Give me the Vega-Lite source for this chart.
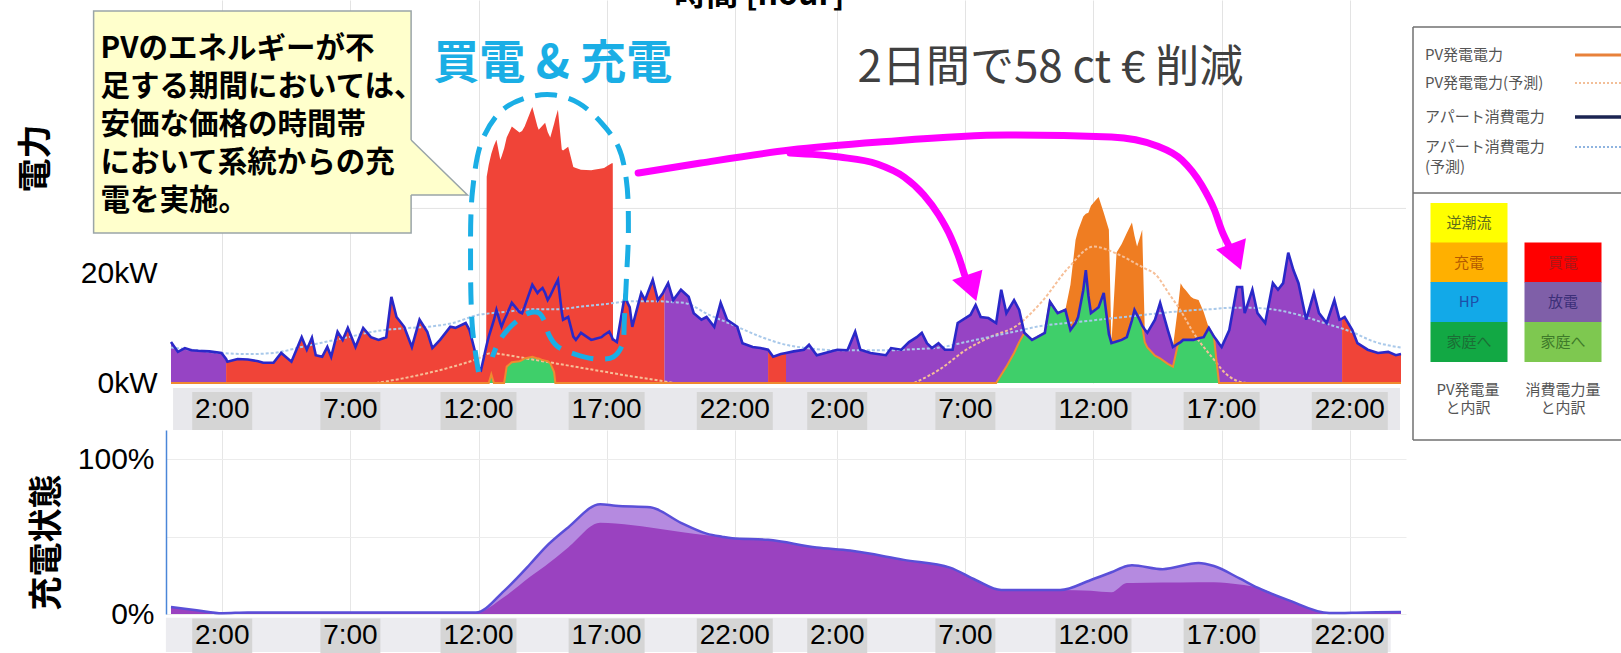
{
  "$schema": "https://vega.github.io/schema/vega-lite/v6.json",
  "background": "white",
  "padding": {"left": 19, "top": 0, "right": 0, "bottom": 0},
  "config": {
    "view": {"stroke": null},
    "font": "Noto Sans CJK JP",
    "axis": {"labelColor": "#000000", "titleColor": "#000000"}
  },
  "datasets": {
    "flows": [
      {"t":0,"load":7.5,"home":0,"dis":7.5},
      {"t":0.27,"load":5.7,"home":0,"dis":5.7},
      {"t":0.54,"load":6.4,"home":0,"dis":6.4},
      {"t":0.8,"load":6.0,"home":0,"dis":6.0},
      {"t":1.05,"load":5.9,"home":0,"dis":5.9},
      {"t":1.5,"load":5.8,"home":0,"dis":5.8},
      {"t":1.97,"load":5.5,"home":0,"dis":5.5},
      {"t":2.15,"load":4.4,"home":0,"dis":4.4,"buy":4.4},
      {"t":2.2,"load":3.9,"home":0,"buy":3.9},
      {"t":2.6,"load":4.4,"home":0,"buy":4.4},
      {"t":3.0,"load":4.3,"home":0,"buy":4.3},
      {"t":3.4,"load":4.0,"home":0,"buy":4.0},
      {"t":3.6,"load":3.7,"home":0,"buy":3.7},
      {"t":4.0,"load":3.7,"home":0,"buy":3.7},
      {"t":4.3,"load":5.5,"home":0,"buy":5.5},
      {"t":4.7,"load":3.9,"home":0,"buy":3.9},
      {"t":5.1,"load":8.4,"home":0,"buy":8.4},
      {"t":5.3,"load":6.1,"home":0,"buy":6.1},
      {"t":5.5,"load":8.3,"home":0,"buy":8.3},
      {"t":5.65,"load":5.1,"home":0,"buy":5.1},
      {"t":5.9,"load":4.8,"home":0,"buy":4.8},
      {"t":6.1,"load":6.6,"home":0,"buy":6.6},
      {"t":6.25,"load":4.8,"home":0,"buy":4.8},
      {"t":6.5,"load":9.4,"home":0,"buy":9.4},
      {"t":6.7,"load":7.9,"home":0,"buy":7.9},
      {"t":6.9,"load":10.1,"home":0,"buy":10.1},
      {"t":7.2,"load":6.6,"home":0,"buy":6.6},
      {"t":7.5,"load":10.1,"home":0,"buy":10.1},
      {"t":7.8,"load":8.4,"home":0,"buy":8.4},
      {"t":8.1,"load":7.9,"home":0,"buy":7.9},
      {"t":8.4,"load":8.4,"home":0,"buy":8.4},
      {"t":8.6,"load":15.8,"home":0,"buy":15.8},
      {"t":8.8,"load":12.1,"home":0,"buy":12.1},
      {"t":9.1,"load":10.3,"home":0,"buy":10.3},
      {"t":9.4,"load":6.6,"home":0,"buy":6.6},
      {"t":9.7,"load":11.6,"home":0,"buy":11.6},
      {"t":10.0,"load":9.4,"home":0,"buy":9.4},
      {"t":10.2,"load":6.4,"home":0,"buy":6.4},
      {"t":10.5,"load":7.9,"home":0,"buy":7.9},
      {"t":10.9,"load":10.3,"home":0,"buy":10.3},
      {"t":11.1,"load":10.1,"home":0,"buy":10.1},
      {"t":11.5,"load":11.0,"home":0,"buy":11.0},
      {"t":11.65,"load":9.7,"home":0,"buy":9.7},
      {"t":11.85,"load":6.0,"home":0,"buy":6.0},
      {"t":12.0,"load":2.9,"home":0,"buy":2.9},
      {"t":12.1,"load":2.4,"home":0,"buy":2.4},
      {"t":12.2,"load":4.5,"home":0,"buy":4.5},
      {"t":12.3,"load":6.6,"home":0,"buy":6.6},
      {"t":12.32,"load":7.0,"home":0,"buy":37.8},
      {"t":12.4,"load":8.5,"home":0,"buy":40.0},
      {"t":12.5,"load":10.0,"home":1.6,"buy":42.0},
      {"t":12.6,"load":11.5,"home":0,"buy":43.5},
      {"t":12.7,"load":13.4,"home":0,"buy":44.6},
      {"t":12.85,"load":11.0,"home":0,"buy":40.9},
      {"t":12.9,"load":10.3,"home":0,"buy":41.5},
      {"t":13.0,"load":11.5,"home":0,"buy":43.0},
      {"t":13.1,"load":12.5,"home":3.0,"buy":45.0},
      {"t":13.3,"load":14.7,"home":3.8,"buy":47.0},
      {"t":13.6,"load":13.0,"home":4.0,"buy":45.9},
      {"t":13.7,"load":12.8,"home":4.2,"buy":46.2},
      {"t":13.8,"load":14.0,"home":4.5,"buy":47.0},
      {"t":14.1,"load":18.0,"home":4.8,"buy":50.6},
      {"t":14.3,"load":16.5,"home":4.5,"buy":47.0},
      {"t":14.35,"load":16.8,"home":4.5,"buy":46.4},
      {"t":14.5,"load":17.4,"home":4.2,"buy":47.2},
      {"t":14.6,"load":16.5,"home":4.1,"buy":47.7},
      {"t":14.7,"load":15.2,"home":4.0,"buy":46.0},
      {"t":14.8,"load":16.0,"home":3.6,"buy":45.0},
      {"t":14.95,"load":17.5,"home":2.0,"buy":47.5},
      {"t":15.0,"load":18.0,"home":0,"buy":48.5},
      {"t":15.1,"load":18.9,"home":0,"buy":50.1},
      {"t":15.25,"load":13.0,"home":0,"buy":42.8},
      {"t":15.3,"load":11.6,"home":0,"buy":42.6},
      {"t":15.5,"load":12.1,"home":0,"buy":43.3},
      {"t":15.7,"load":8.5,"home":0,"buy":39.6},
      {"t":15.8,"load":7.9,"home":0,"buy":39.4},
      {"t":16.0,"load":9.2,"home":0,"buy":39.1},
      {"t":16.4,"load":7.9,"home":0,"buy":39.0},
      {"t":16.5,"load":8.0,"home":0,"buy":39.1},
      {"t":16.8,"load":8.4,"home":0,"buy":39.3},
      {"t":16.9,"load":8.8,"home":0,"buy":39.4},
      {"t":17.1,"load":9.4,"home":0,"buy":40.0},
      {"t":17.2,"load":8.5,"home":0,"buy":40.3},
      {"t":17.24,"load":8.0,"home":0,"buy":40.3},
      {"t":17.25,"load":8.0,"home":0,"buy":8.0},
      {"t":17.4,"load":7.5,"home":0,"buy":7.5},
      {"t":17.7,"load":15.8,"home":0,"buy":15.8},
      {"t":17.9,"load":13.9,"home":0,"buy":13.9},
      {"t":18.0,"load":10.3,"home":0,"buy":10.3},
      {"t":18.35,"load":16.5,"home":0,"buy":16.5},
      {"t":18.5,"load":15.2,"home":0,"buy":15.2},
      {"t":18.8,"load":18.9,"home":0,"buy":18.9},
      {"t":19.0,"load":15.2,"home":0,"buy":15.2},
      {"t":19.2,"load":16.5,"home":0,"buy":16.5},
      {"t":19.25,"load":17.0,"home":0,"buy":17.0,"dis":17.0},
      {"t":19.4,"load":18.3,"home":0,"dis":18.3},
      {"t":19.6,"load":15.2,"home":0,"dis":15.2},
      {"t":19.9,"load":17.1,"home":0,"dis":17.1},
      {"t":20.2,"load":15.8,"home":0,"dis":15.8},
      {"t":20.4,"load":12.8,"home":0,"dis":12.8},
      {"t":20.7,"load":11.6,"home":0,"dis":11.6},
      {"t":20.9,"load":12.1,"home":0,"dis":12.1},
      {"t":21.2,"load":10.3,"home":0,"dis":10.3},
      {"t":21.45,"load":14.7,"home":0,"dis":14.7},
      {"t":21.7,"load":11.6,"home":0,"dis":11.6},
      {"t":22.1,"load":10.3,"home":0,"dis":10.3},
      {"t":22.3,"load":7.3,"home":0,"dis":7.3},
      {"t":22.7,"load":6.6,"home":0,"dis":6.6},
      {"t":23.0,"load":6.4,"home":0,"dis":6.4},
      {"t":23.3,"load":6.1,"home":0,"dis":6.1,"buy":6.1},
      {"t":23.5,"load":4.8,"home":0,"buy":4.8},
      {"t":23.8,"load":5.3,"home":0,"buy":5.3},
      {"t":24.0,"load":5.5,"home":0,"buy":5.5,"dis":5.5},
      {"t":24.3,"load":5.8,"home":0,"dis":5.8},
      {"t":24.7,"load":6.1,"home":0,"dis":6.1},
      {"t":24.9,"load":7.0,"home":0,"dis":7.0},
      {"t":25.2,"load":5.1,"home":0,"dis":5.1},
      {"t":25.6,"load":5.6,"home":0,"dis":5.6},
      {"t":26.0,"load":6.1,"home":0,"dis":6.1},
      {"t":26.4,"load":6.0,"home":0,"dis":6.0},
      {"t":26.7,"load":9.4,"home":0,"dis":9.4},
      {"t":26.9,"load":6.1,"home":0,"dis":6.1},
      {"t":27.3,"load":5.5,"home":0,"dis":5.5},
      {"t":27.9,"load":5.1,"home":0,"dis":5.1},
      {"t":28.1,"load":6.4,"home":0,"dis":6.4},
      {"t":28.5,"load":6.1,"home":0,"dis":6.1},
      {"t":28.8,"load":7.5,"home":0,"dis":7.5},
      {"t":29.1,"load":8.4,"home":0,"dis":8.4},
      {"t":29.3,"load":9.2,"home":0,"dis":9.2},
      {"t":29.5,"load":7.3,"home":0,"dis":7.3},
      {"t":29.7,"load":6.4,"home":0,"dis":6.4},
      {"t":29.95,"load":7.3,"home":0,"dis":7.3},
      {"t":30.2,"load":6.1,"home":0,"dis":6.1},
      {"t":30.5,"load":6.1,"home":0,"dis":6.1},
      {"t":30.7,"load":11.0,"home":0,"dis":11.0},
      {"t":31.0,"load":11.9,"home":0,"dis":11.9},
      {"t":31.2,"load":12.5,"home":0,"dis":12.5},
      {"t":31.4,"load":14.3,"home":0,"dis":14.3},
      {"t":31.6,"load":12.1,"home":0,"dis":12.1},
      {"t":31.9,"load":11.9,"home":0,"dis":11.9},
      {"t":32.2,"load":11.0,"home":0,"dis":11.0},
      {"t":32.4,"load":17.1,"home":1.5,"dis":17.1},
      {"t":32.6,"load":12.8,"home":3.0,"dis":12.8},
      {"t":32.9,"load":15.2,"home":5.5,"dis":15.2},
      {"t":33.1,"load":13.4,"home":7.5,"dis":13.4},
      {"t":33.3,"load":9.2,"home":9.2,"dis":9.2},
      {"t":33.6,"load":7.9,"home":7.9,"dis":7.9},
      {"t":33.8,"load":8.4,"home":8.4,"dis":8.4},
      {"t":34.1,"load":9.2,"home":9.2,"dis":9.2},
      {"t":34.3,"load":14.9,"home":14.9,"dis":14.9},
      {"t":34.6,"load":12.8,"home":12.8,"dis":12.8},
      {"t":34.9,"load":13.4,"home":13.4,"dis":13.4,"chg":13.4},
      {"t":35.1,"load":9.7,"home":9.7,"dis":9.7,"chg":18.0},
      {"t":35.3,"load":11.0,"home":11.0,"dis":11.0,"chg":26.2},
      {"t":35.4,"load":12.1,"home":12.1,"dis":12.1,"chg":28.0},
      {"t":35.6,"load":17.0,"home":17.0,"dis":17.0,"chg":30.5},
      {"t":35.7,"load":20.7,"home":20.7,"dis":20.7,"chg":31.0},
      {"t":35.8,"load":16.0,"home":16.0,"dis":16.0,"chg":31.2},
      {"t":35.9,"load":12.8,"home":12.8,"dis":12.8,"chg":32.5},
      {"t":36.1,"load":13.5,"home":13.5,"dis":13.5,"chg":33.6},
      {"t":36.2,"load":13.9,"home":13.9,"dis":13.9,"chg":34.1},
      {"t":36.4,"load":16.5,"home":16.5,"dis":16.5,"chg":31.2},
      {"t":36.6,"load":9.0,"home":9.0,"dis":9.0,"chg":28.1},
      {"t":36.7,"load":7.3,"home":7.3,"dis":7.3,"chg":7.3},
      {"t":36.9,"load":7.6,"home":7.6,"dis":7.6,"chg":23.9},
      {"t":37.1,"load":7.9,"home":7.9,"dis":7.9,"chg":25.5},
      {"t":37.3,"load":8.4,"home":8.4,"dis":8.4,"chg":27.5},
      {"t":37.5,"load":11.5,"home":11.5,"dis":11.5,"chg":29.4},
      {"t":37.6,"load":13.4,"home":13.4,"dis":13.4,"chg":27.0},
      {"t":37.7,"load":12.5,"home":12.5,"dis":12.5,"chg":25.0},
      {"t":37.8,"load":11.6,"home":11.6,"dis":11.6,"chg":26.5},
      {"t":37.9,"load":10.5,"home":10.5,"dis":10.5,"chg":28.1},
      {"t":38.0,"load":9.8,"home":7.5,"dis":9.8,"chg":9.8},
      {"t":38.1,"load":9.2,"home":6.5,"dis":9.2},
      {"t":38.4,"load":11.6,"home":5.0,"dis":11.6},
      {"t":38.6,"load":14.7,"home":4.5,"dis":14.7},
      {"t":38.9,"load":9.7,"home":3.5,"dis":9.7},
      {"t":39.1,"load":6.6,"home":3.0,"dis":6.6,"chg":6.6},
      {"t":39.3,"load":7.2,"home":7.2,"dis":7.2,"chg":14.0},
      {"t":39.4,"load":7.5,"home":7.5,"dis":7.5,"chg":18.3},
      {"t":39.5,"load":7.9,"home":7.9,"dis":7.9,"chg":17.5},
      {"t":39.6,"load":7.9,"home":7.9,"dis":7.9,"chg":17.0},
      {"t":39.8,"load":7.9,"home":7.9,"dis":7.9,"chg":15.8},
      {"t":39.9,"load":7.9,"home":7.9,"dis":7.9,"chg":15.5},
      {"t":40.1,"load":8.2,"home":8.2,"dis":8.2,"chg":15.2},
      {"t":40.3,"load":8.4,"home":8.4,"dis":8.4,"chg":13.0},
      {"t":40.5,"load":10.1,"home":10.1,"dis":10.1,"chg":10.1},
      {"t":40.7,"load":8.5,"home":8.5,"dis":8.5},
      {"t":40.8,"load":7.9,"home":4.0,"dis":7.9},
      {"t":40.9,"load":7.2,"home":0,"dis":7.2},
      {"t":41.0,"load":6.6,"home":0,"dis":6.6},
      {"t":41.3,"load":9.7,"home":0,"dis":9.7},
      {"t":41.6,"load":17.6,"home":0,"dis":17.6},
      {"t":41.8,"load":17.6,"home":0,"dis":17.6},
      {"t":41.9,"load":12.8,"home":0,"dis":12.8},
      {"t":42.2,"load":17.1,"home":0,"dis":17.1},
      {"t":42.4,"load":12.8,"home":0,"dis":12.8},
      {"t":42.7,"load":11.0,"home":0,"dis":11.0},
      {"t":43.0,"load":18.3,"home":0,"dis":18.3},
      {"t":43.2,"load":17.1,"home":0,"dis":17.1},
      {"t":43.4,"load":18.3,"home":0,"dis":18.3},
      {"t":43.6,"load":23.9,"home":0,"dis":23.9},
      {"t":43.8,"load":20.7,"home":0,"dis":20.7},
      {"t":44.0,"load":18.3,"home":0,"dis":18.3},
      {"t":44.3,"load":11.6,"home":0,"dis":11.6},
      {"t":44.6,"load":16.5,"home":0,"dis":16.5},
      {"t":44.8,"load":12.8,"home":0,"dis":12.8},
      {"t":45.1,"load":11.0,"home":0,"dis":11.0},
      {"t":45.4,"load":15.2,"home":0,"dis":15.2},
      {"t":45.6,"load":11.6,"home":0,"dis":11.6},
      {"t":45.7,"load":11.8,"home":0,"dis":11.8,"buy":11.8},
      {"t":45.8,"load":12.1,"home":0,"buy":12.1},
      {"t":46.1,"load":9.7,"home":0,"buy":9.7},
      {"t":46.3,"load":7.3,"home":0,"buy":7.3},
      {"t":46.7,"load":6.1,"home":0,"buy":6.1},
      {"t":47.1,"load":5.5,"home":0,"buy":5.5},
      {"t":47.5,"load":5.7,"home":0,"buy":5.7},
      {"t":47.8,"load":5.1,"home":0,"buy":5.1},
      {"t":48.0,"load":5.3,"home":0,"buy":5.3}
    ],
    "forecast": [
      {"t":0,"lf":6.5},{"t":1,"lf":6.0},{"t":2,"lf":5.5},{"t":3,"lf":5.3},{"t":4,"lf":5.5},
      {"t":5,"lf":6.5},{"t":6,"lf":7.5},{"t":7,"lf":8.5},{"t":8,"lf":9.5,"pf":0},
      {"t":9,"lf":10.0,"pf":0.8},{"t":10,"lf":10.3,"pf":1.8},{"t":11,"lf":11.0,"pf":3.0},
      {"t":12,"lf":12.5,"pf":4.5},{"t":12.5,"lf":12.8,"pf":5.5},{"t":13,"lf":13.0,"pf":5.2},
      {"t":14,"lf":13.5,"pf":4.4},{"t":15,"lf":13.5,"pf":3.6},{"t":16,"lf":14.0,"pf":2.8},
      {"t":17,"lf":14.5,"pf":2.0},{"t":18,"lf":15.0,"pf":1.2},{"t":19,"lf":15.0,"pf":0.5},
      {"t":19.6,"lf":14.8,"pf":0},{"t":20,"lf":14.7},{"t":21,"lf":12.5},{"t":22,"lf":10.5},
      {"t":23,"lf":8.5},{"t":24,"lf":7.0},{"t":25,"lf":6.3},{"t":26,"lf":6.0},{"t":27,"lf":6.0},
      {"t":28,"lf":6.0},{"t":29,"lf":6.2,"pf":0},{"t":30,"lf":6.5,"pf":2.5},{"t":31,"lf":7.5,"pf":6.0},
      {"t":32,"lf":8.5,"pf":8.5},{"t":33,"lf":9.5,"pf":10.5},{"t":34,"lf":10.5,"pf":15.0},
      {"t":35,"lf":11.0,"pf":21.0},{"t":36,"lf":11.5,"pf":25.0},{"t":37,"lf":12.0,"pf":23.5},
      {"t":38,"lf":12.5,"pf":21.0},{"t":38.4,"lf":12.7,"pf":20.0},{"t":39,"lf":13.0,"pf":16.0},
      {"t":39.3,"lf":13.1,"pf":14.0},{"t":40,"lf":13.4,"pf":8.5},{"t":40.8,"lf":13.6,"pf":3.7},
      {"t":41,"lf":13.7,"pf":2.5},{"t":41.6,"lf":13.8,"pf":0.4},{"t":42,"lf":13.8,"pf":0},
      {"t":43,"lf":13.5},{"t":44,"lf":12.5},{"t":45,"lf":11.0},{"t":46,"lf":9.5},{"t":47,"lf":7.5},{"t":48,"lf":6.5}
    ],
    "soc": [
      {"t":0,"soc":4.5,"soc_in":4.5},{"t":1,"soc":2.5,"soc_in":2.5},{"t":2,"soc":0.5,"soc_in":0.5},
      {"t":3,"soc":1.0,"soc_in":1.0},{"t":11.9,"soc":1.0,"soc_in":1.0},{"t":13,"soc":15,"soc_in":11},
      {"t":14,"soc":32,"soc_in":24},{"t":14.6,"soc":43,"soc_in":31},{"t":15.5,"soc":56,"soc_in":43},
      {"t":16.75,"soc":71,"soc_in":59},{"t":17.35,"soc":70,"soc_in":58.5},{"t":18.7,"soc":69,"soc_in":56},
      {"t":19.9,"soc":59,"soc_in":53},{"t":20.9,"soc":52,"soc_in":51},{"t":21.5,"soc":50,"soc_in":50},
      {"t":21.9,"soc":49,"soc_in":49},{"t":23.3,"soc":48,"soc_in":48},{"t":25.2,"soc":43,"soc_in":43},
      {"t":26.5,"soc":41,"soc_in":41},{"t":28.6,"soc":35,"soc_in":35},{"t":30.4,"soc":30,"soc_in":30},
      {"t":31.4,"soc":22,"soc_in":22},{"t":32.4,"soc":15.5,"soc_in":15.5},{"t":34.7,"soc":15.5,"soc_in":15.5},
      {"t":35.9,"soc":22,"soc_in":15},{"t":36.7,"soc":27,"soc_in":14},{"t":37.3,"soc":31,"soc_in":20},
      {"t":37.5,"soc":31.6,"soc_in":20},{"t":38.7,"soc":29,"soc_in":20.3},{"t":40.1,"soc":33,"soc_in":20.6},
      {"t":40.7,"soc":31,"soc_in":20.6},{"t":41.7,"soc":23,"soc_in":19},{"t":42.4,"soc":17,"soc_in":17},
      {"t":43.6,"soc":9,"soc_in":9},{"t":45.2,"soc":0.6,"soc_in":0.6},{"t":46.6,"soc":1.0,"soc_in":1.0},
      {"t":48,"soc":1.3,"soc_in":1.3}
    ],
    "ticks": [
      {"t":2,"label":"2:00"},{"t":7,"label":"7:00"},{"t":12,"label":"12:00"},{"t":17,"label":"17:00"},{"t":22,"label":"22:00"},
      {"t":26,"label":"2:00"},{"t":31,"label":"7:00"},{"t":36,"label":"12:00"},{"t":41,"label":"17:00"},{"t":46,"label":"22:00"}
    ]
  },
  "columns": 2,
  "spacing": {"row": 47, "column": 6},
  "bounds": "flush",
  "concat": [
    {
      "width": 1240,
      "height": 383,
      "layer": [
        {
          "data": {"values": [{}]},
          "mark": {"type": "rect", "color": "#e8e8ec"},
          "encoding": {
            "x": {"datum": 0.08},
            "x2": {"datum": 47.96},
            "y": {"datum": -0.92},
            "y2": {"datum": -8.61}
          }
        },
        {
          "data": {"name": "ticks"},
          "mark": {"type": "bar", "color": "#d5d5d5"},
          "encoding": {
            "x": {"field": "t", "type": "quantitative"},
            "y": {"datum": -1.65},
            "y2": {"datum": -8.61},
            "size": {"condition": {"test": "datum.t % 24 < 10", "value": 60}, "value": 76}
          }
        },
        {
          "data": {"name": "ticks"},
          "mark": {"type": "text", "font": "Liberation Sans", "fontSize": 28, "color": "#000000", "align": "center", "baseline": "middle"},
          "encoding": {
            "x": {"field": "t", "type": "quantitative"},
            "y": {"datum": -4.95},
            "text": {"field": "label"}
          }
        },
        {
          "data": {"values": [{}]},
          "mark": {"type": "rule", "color": "#e3e3e3", "strokeWidth": 1},
          "encoding": {"y": {"datum": 32}}
        },
        {
          "data": {"name": "flows"},
          "mark": {"type": "area", "color": "#3fcf6a", "invalid": "break-paths-filter-domains"},
          "encoding": {
            "x": {
              "field": "t", "type": "quantitative",
              "scale": {"domain": [0, 48], "nice": false, "zero": false},
              "axis": {"values": [2, 7, 12, 17, 22, 26, 31, 36, 41, 46], "labels": false, "ticks": false, "domain": false, "grid": true, "gridColor": "#e3e3e3", "title": null}
            },
            "y": {
              "field": "home", "type": "quantitative", "stack": null,
              "scale": {"domain": [0, 70.2], "nice": false},
              "axis": {
                "values": [0, 20], "labelExpr": "datum.value + 'kW'", "grid": false, "ticks": false, "domain": false,
                "labelFont": "Liberation Sans", "labelFontSize": 30, "labelPadding": 9,
                "title": "電力", "titleFont": "Noto Sans CJK JP", "titleFontSize": 34, "titleFontWeight": "bold",
                "titleAngle": 270, "titleX": -130, "titleY": 158, "titleAlign": "center", "titleBaseline": "middle"
              }
            }
          }
        },
        {
          "data": {"name": "flows"},
          "mark": {"type": "area", "color": "#9644c4", "invalid": "break-paths-filter-domains"},
          "encoding": {
            "x": {"field": "t", "type": "quantitative"},
            "y": {"field": "dis", "type": "quantitative"},
            "y2": {"field": "home"}
          }
        },
        {
          "data": {"name": "flows"},
          "mark": {"type": "area", "color": "#f04438", "invalid": "break-paths-filter-domains"},
          "encoding": {
            "x": {"field": "t", "type": "quantitative"},
            "y": {"field": "buy", "type": "quantitative"},
            "y2": {"field": "home"}
          }
        },
        {
          "data": {"name": "flows"},
          "mark": {"type": "area", "color": "#ef7d22", "invalid": "break-paths-filter-domains"},
          "encoding": {
            "x": {"field": "t", "type": "quantitative"},
            "y": {"field": "chg", "type": "quantitative"},
            "y2": {"field": "load"}
          }
        },
        {
          "data": {"name": "forecast"},
          "mark": {"type": "line", "color": "#f6bf98", "strokeWidth": 2, "strokeDash": [3, 2], "interpolate": "monotone", "invalid": "break-paths-filter-domains"},
          "encoding": {
            "x": {"field": "t", "type": "quantitative"},
            "y": {"field": "pf", "type": "quantitative"}
          }
        },
        {
          "data": {"name": "forecast"},
          "mark": {"type": "line", "color": "#a9c9ea", "strokeWidth": 2, "strokeDash": [3, 2], "interpolate": "monotone"},
          "encoding": {
            "x": {"field": "t", "type": "quantitative"},
            "y": {"field": "lf", "type": "quantitative"}
          }
        },
        {
          "data": {"name": "flows"},
          "mark": {"type": "line", "color": "#f08a30", "strokeWidth": 2},
          "encoding": {
            "x": {"field": "t", "type": "quantitative"},
            "y": {"field": "home", "type": "quantitative"}
          }
        },
        {
          "data": {"name": "flows"},
          "mark": {"type": "line", "color": "#2a28c8", "strokeWidth": 2.6},
          "encoding": {
            "x": {"field": "t", "type": "quantitative"},
            "y": {"field": "load", "type": "quantitative"}
          }
        },
        {
          "data": {"values": [{}]},
          "mark": {"type": "rect", "fill": "#ffffcc", "stroke": "#9aa5a8", "strokeWidth": 1.5},
          "encoding": {
            "x": {"datum": -3.02},
            "x2": {"datum": 9.37},
            "y": {"datum": 68.18},
            "y2": {"datum": 27.49}
          }
        },
        {
          "data": {"values": [
            {"t": 9.28, "top": 44.6, "bot": 34.46},
            {"t": 9.37, "top": 44.54, "bot": 34.46},
            {"t": 11.57, "top": 34.46, "bot": 34.46}
          ]},
          "mark": {"type": "area", "color": "#ffffcc"},
          "encoding": {
            "x": {"field": "t", "type": "quantitative"},
            "y": {"field": "top", "type": "quantitative"},
            "y2": {"field": "bot"}
          }
        },
        {
          "data": {"values": [
            {"t": 9.37, "kw": 44.54},
            {"t": 11.57, "kw": 34.46},
            {"t": 9.37, "kw": 34.46}
          ]},
          "mark": {"type": "line", "color": "#9aa5a8", "strokeWidth": 1.5},
          "encoding": {
            "x": {"field": "t", "type": "quantitative"},
            "y": {"field": "kw", "type": "quantitative"},
            "order": {"value": null}
          }
        },
        {
          "data": {"values": [{"note": "PVのエネルギーが不\n足する期間においては、\n安価な価格の時間帯\nにおいて系統からの充\n電を実施。"}]},
          "mark": {"type": "text", "lineBreak": "\n", "lineHeight": 38, "fontSize": 29.5, "fontWeight": "bold", "color": "#000000", "align": "left", "baseline": "middle"},
          "encoding": {
            "x": {"datum": -2.75},
            "y": {"datum": 61.31},
            "text": {"field": "note"}
          }
        },
        {
          "data": {"values": [{"note": "買電 & 充電"}]},
          "mark": {"type": "text", "fontSize": 46, "fontWeight": "bold", "color": "#1aaee5", "align": "center", "baseline": "middle"},
          "encoding": {
            "x": {"datum": 14.9},
            "y": {"datum": 58.47},
            "text": {"field": "note"}
          }
        },
        {
          "data": {"values": [
            {"t": 12.0, "kw": 2.02}, {"t": 11.77, "kw": 9.71}, {"t": 11.69, "kw": 22.54}, {"t": 11.77, "kw": 35.37},
            {"t": 12.15, "kw": 44.53}, {"t": 12.93, "kw": 50.03}, {"t": 13.97, "kw": 52.41}, {"t": 14.98, "kw": 52.78},
            {"t": 15.91, "kw": 51.31}, {"t": 16.8, "kw": 47.65}, {"t": 17.46, "kw": 43.25}, {"t": 17.77, "kw": 37.2},
            {"t": 17.85, "kw": 28.04}, {"t": 17.77, "kw": 18.87}, {"t": 17.69, "kw": 11.54}, {"t": 17.61, "kw": 6.96},
            {"t": 17.26, "kw": 4.76}, {"t": 16.61, "kw": 4.4}, {"t": 15.76, "kw": 5.31}, {"t": 15.06, "kw": 6.78},
            {"t": 14.75, "kw": 8.8}, {"t": 14.59, "kw": 11.18}, {"t": 14.36, "kw": 12.83}, {"t": 13.97, "kw": 12.83},
            {"t": 13.32, "kw": 10.63}, {"t": 12.81, "kw": 7.7}, {"t": 12.54, "kw": 4.76}
          ]},
          "mark": {"type": "line", "color": "#1aaee5", "strokeWidth": 5, "strokeDash": [22, 12], "interpolate": "catmull-rom"},
          "encoding": {
            "x": {"field": "t", "type": "quantitative"},
            "y": {"field": "kw", "type": "quantitative"},
            "order": {"value": null}
          }
        },
        {
          "data": {"values": [
            {"arrow": "later", "t": 18.23, "kw": 38.48}, {"arrow": "later", "t": 20.67, "kw": 40.32},
            {"arrow": "later", "t": 24.16, "kw": 42.7}, {"arrow": "later", "t": 27.64, "kw": 44.16},
            {"arrow": "later", "t": 32.63, "kw": 45.45}, {"arrow": "later", "t": 36.7, "kw": 45.08},
            {"arrow": "later", "t": 38.48, "kw": 43.43}, {"arrow": "later", "t": 39.45, "kw": 40.86},
            {"arrow": "later", "t": 40.22, "kw": 36.28}, {"arrow": "later", "t": 40.72, "kw": 31.7},
            {"arrow": "later", "t": 41.03, "kw": 27.67}, {"arrow": "later", "t": 41.27, "kw": 25.29},
            {"arrow": "morning", "t": 24.16, "kw": 42.15}, {"arrow": "morning", "t": 26.09, "kw": 41.41},
            {"arrow": "morning", "t": 27.56, "kw": 40.13}, {"arrow": "morning", "t": 28.61, "kw": 37.75},
            {"arrow": "morning", "t": 29.38, "kw": 34.45}, {"arrow": "morning", "t": 29.96, "kw": 30.79},
            {"arrow": "morning", "t": 30.43, "kw": 26.75}, {"arrow": "morning", "t": 30.81, "kw": 22.17},
            {"arrow": "morning", "t": 30.97, "kw": 19.79}
          ]},
          "mark": {"type": "line", "color": "#ff00ff", "strokeWidth": 7, "interpolate": "monotone", "strokeCap": "round"},
          "encoding": {
            "x": {"field": "t", "type": "quantitative"},
            "y": {"field": "kw", "type": "quantitative"},
            "detail": {"field": "arrow"},
            "order": {"value": null}
          }
        },
        {
          "data": {"values": [{}]},
          "mark": {"type": "point", "shape": "triangle-down", "filled": true, "opacity": 1, "color": "#ff00ff", "size": 1024, "angle": 339},
          "encoding": {
            "x": {"datum": 41.56},
            "y": {"datum": 23.13}
          }
        },
        {
          "data": {"values": [{}]},
          "mark": {"type": "point", "shape": "triangle-down", "filled": true, "opacity": 1, "color": "#ff00ff", "size": 1024, "angle": 341},
          "encoding": {
            "x": {"datum": 31.25},
            "y": {"datum": 17.41}
          }
        },
        {
          "data": {"values": [{"note": "2日間で58 ct € 削減"}]},
          "mark": {"type": "text", "fontSize": 44, "color": "#404040", "align": "left", "baseline": "middle"},
          "encoding": {
            "x": {"datum": 26.79},
            "y": {"datum": 57.6},
            "text": {"field": "note"}
          }
        },
        {
          "data": {"values": [{"note": "時間 [hour]"}]},
          "mark": {"type": "text", "fontSize": 32, "fontWeight": "bold", "color": "#000000", "align": "center", "baseline": "alphabetic", "clip": true},
          "encoding": {
            "x": {"datum": 22.96},
            "y": {"datum": 69.3},
            "text": {"field": "note"}
          }
        }
      ]
    },
    {
      "width": 209,
      "height": 383,
      "data": {"values": [{}]},
      "layer": [
        {
          "mark": {"type": "rule", "color": "#707070", "strokeWidth": 1.5},
          "encoding": {
            "x": {"datum": 1, "scale": {"domain": [0, 209], "nice": false, "zero": false}, "axis": null},
            "x2": {"datum": 209},
            "y": {"datum": 27, "scale": {"domain": [0, 383], "nice": false, "zero": false, "reverse": true}, "axis": null}
          }
        },
        {
          "mark": {"type": "rule", "color": "#707070", "strokeWidth": 1.5},
          "encoding": {"x": {"datum": 1, "axis": null}, "y": {"datum": 27, "axis": null}, "y2": {"datum": 440}}
        },
        {
          "mark": {"type": "rule", "color": "#707070", "strokeWidth": 1.5},
          "encoding": {"x": {"datum": 1, "axis": null}, "x2": {"datum": 209}, "y": {"datum": 440, "axis": null}}
        },
        {
          "mark": {"type": "rule", "color": "#707070", "strokeWidth": 1.5},
          "encoding": {"x": {"datum": 1, "axis": null}, "x2": {"datum": 209}, "y": {"datum": 193, "axis": null}}
        },
        {
          "data": {"values": [{"label": "PV発電電力"}]},
          "mark": {"type": "text", "fontSize": 15, "color": "#555555", "align": "left", "baseline": "middle"},
          "encoding": {"x": {"datum": 13, "axis": null}, "y": {"datum": 55, "axis": null}, "text": {"field": "label"}}
        },
        {
          "data": {"values": [{"label": "PV発電電力(予測)"}]},
          "mark": {"type": "text", "fontSize": 15, "color": "#555555", "align": "left", "baseline": "middle"},
          "encoding": {"x": {"datum": 13, "axis": null}, "y": {"datum": 83, "axis": null}, "text": {"field": "label"}}
        },
        {
          "data": {"values": [{"label": "アパート消費電力"}]},
          "mark": {"type": "text", "fontSize": 15, "color": "#555555", "align": "left", "baseline": "middle"},
          "encoding": {"x": {"datum": 13, "axis": null}, "y": {"datum": 117, "axis": null}, "text": {"field": "label"}}
        },
        {
          "data": {"values": [{"label": "アパート消費電力\n(予測)"}]},
          "mark": {"type": "text", "fontSize": 15, "color": "#555555", "align": "left", "baseline": "middle", "lineBreak": "\n", "lineHeight": 20},
          "encoding": {"x": {"datum": 13, "axis": null}, "y": {"datum": 147, "axis": null}, "text": {"field": "label"}}
        },
        {
          "mark": {"type": "rule", "color": "#e8813a", "strokeWidth": 3},
          "encoding": {"x": {"datum": 163, "axis": null}, "x2": {"datum": 209}, "y": {"datum": 55, "axis": null}}
        },
        {
          "mark": {"type": "rule", "color": "#f3bf98", "strokeWidth": 2, "strokeDash": [2, 2]},
          "encoding": {"x": {"datum": 163, "axis": null}, "x2": {"datum": 209}, "y": {"datum": 83, "axis": null}}
        },
        {
          "mark": {"type": "rule", "color": "#1b2452", "strokeWidth": 3.5},
          "encoding": {"x": {"datum": 163, "axis": null}, "x2": {"datum": 209}, "y": {"datum": 117, "axis": null}}
        },
        {
          "mark": {"type": "rule", "color": "#8fb4e0", "strokeWidth": 2, "strokeDash": [2, 2]},
          "encoding": {"x": {"datum": 163, "axis": null}, "x2": {"datum": 209}, "y": {"datum": 147, "axis": null}}
        },
        {
          "data": {"values": [{"label": "逆潮流"}]},
          "encoding": {"x": {"datum": 57, "axis": null}, "y": {"datum": 223, "axis": null}},
          "layer": [
            {"mark": {"type": "point", "shape": "M-1,-0.52H1V0.52H-1Z", "size": 5929, "filled": true, "opacity": 1, "color": "#ffff00"}},
            {"mark": {"type": "text", "fontSize": 15, "color": "#5b6b1c"}, "encoding": {"text": {"field": "label"}}}
          ]
        },
        {
          "data": {"values": [{"label": "充電"}]},
          "encoding": {"x": {"datum": 57, "axis": null}, "y": {"datum": 262.5, "axis": null}},
          "layer": [
            {"mark": {"type": "point", "shape": "M-1,-0.52H1V0.52H-1Z", "size": 5929, "filled": true, "opacity": 1, "color": "#ffb000"}},
            {"mark": {"type": "text", "fontSize": 15, "color": "#b35a00"}, "encoding": {"text": {"field": "label"}}}
          ]
        },
        {
          "data": {"values": [{"label": "HP"}]},
          "encoding": {"x": {"datum": 57, "axis": null}, "y": {"datum": 302, "axis": null}},
          "layer": [
            {"mark": {"type": "point", "shape": "M-1,-0.52H1V0.52H-1Z", "size": 5929, "filled": true, "opacity": 1, "color": "#12a9e8"}},
            {"mark": {"type": "text", "fontSize": 15, "color": "#1d4fa8"}, "encoding": {"text": {"field": "label"}}}
          ]
        },
        {
          "data": {"values": [{"label": "家庭へ"}]},
          "encoding": {"x": {"datum": 57, "axis": null}, "y": {"datum": 342, "axis": null}},
          "layer": [
            {"mark": {"type": "point", "shape": "M-1,-0.52H1V0.52H-1Z", "size": 5929, "filled": true, "opacity": 1, "color": "#12a844"}},
            {"mark": {"type": "text", "fontSize": 15, "color": "#1b6e35"}, "encoding": {"text": {"field": "label"}}}
          ]
        },
        {
          "data": {"values": [{"label": "買電"}]},
          "encoding": {"x": {"datum": 151, "axis": null}, "y": {"datum": 262.5, "axis": null}},
          "layer": [
            {"mark": {"type": "point", "shape": "M-1,-0.52H1V0.52H-1Z", "size": 5929, "filled": true, "opacity": 1, "color": "#ff0000"}},
            {"mark": {"type": "text", "fontSize": 15, "color": "#a81818"}, "encoding": {"text": {"field": "label"}}}
          ]
        },
        {
          "data": {"values": [{"label": "放電"}]},
          "encoding": {"x": {"datum": 151, "axis": null}, "y": {"datum": 302, "axis": null}},
          "layer": [
            {"mark": {"type": "point", "shape": "M-1,-0.52H1V0.52H-1Z", "size": 5929, "filled": true, "opacity": 1, "color": "#7f5fa8"}},
            {"mark": {"type": "text", "fontSize": 15, "color": "#3c2f78"}, "encoding": {"text": {"field": "label"}}}
          ]
        },
        {
          "data": {"values": [{"label": "家庭へ"}]},
          "encoding": {"x": {"datum": 151, "axis": null}, "y": {"datum": 342, "axis": null}},
          "layer": [
            {"mark": {"type": "point", "shape": "M-1,-0.52H1V0.52H-1Z", "size": 5929, "filled": true, "opacity": 1, "color": "#7ec850"}},
            {"mark": {"type": "text", "fontSize": 15, "color": "#3e7a2a"}, "encoding": {"text": {"field": "label"}}}
          ]
        },
        {
          "data": {"values": [{"label": "PV発電量\nと内訳"}]},
          "mark": {"type": "text", "fontSize": 15, "color": "#555555", "align": "center", "baseline": "middle", "lineBreak": "\n", "lineHeight": 18},
          "encoding": {"x": {"datum": 56, "axis": null}, "y": {"datum": 390, "axis": null}, "text": {"field": "label"}}
        },
        {
          "data": {"values": [{"label": "消費電力量\nと内訳"}]},
          "mark": {"type": "text", "fontSize": 15, "color": "#555555", "align": "center", "baseline": "middle", "lineBreak": "\n", "lineHeight": 18},
          "encoding": {"x": {"datum": 151, "axis": null}, "y": {"datum": 390, "axis": null}, "text": {"field": "label"}}
        }
      ]
    },
    {
      "width": 1240,
      "height": 184,
      "layer": [
        {
          "data": {"values": [{}]},
          "mark": {"type": "rect", "color": "#ececf0"},
          "encoding": {
            "x": {"datum": -0.2},
            "x2": {"datum": 47.6},
            "y": {"datum": -2.5},
            "y2": {"datum": -24.5}
          }
        },
        {
          "data": {"name": "ticks"},
          "mark": {"type": "bar", "color": "#d5d5d5"},
          "encoding": {
            "x": {"field": "t", "type": "quantitative"},
            "y": {"datum": -2.9},
            "y2": {"datum": -25.2},
            "size": {"condition": {"test": "datum.t % 24 < 10", "value": 60}, "value": 76}
          }
        },
        {
          "data": {"name": "ticks"},
          "mark": {"type": "text", "font": "Liberation Sans", "fontSize": 28, "color": "#000000", "align": "center", "baseline": "middle"},
          "encoding": {
            "x": {"field": "t", "type": "quantitative"},
            "y": {"datum": -14.0},
            "text": {"field": "label"}
          }
        },
        {
          "data": {"name": "soc"},
          "mark": {"type": "area", "color": "#b58ae0", "interpolate": "monotone"},
          "encoding": {
            "x": {
              "field": "t", "type": "quantitative",
              "scale": {"domain": [0, 48], "nice": false, "zero": false},
              "axis": {"values": [2, 7, 12, 17, 22, 26, 31, 36, 41, 46], "labels": false, "ticks": false, "domain": false, "grid": true, "gridColor": "#e6e6e6", "title": null}
            },
            "y": {
              "field": "soc", "type": "quantitative", "stack": null,
              "scale": {"domain": [0, 119], "nice": false},
              "axis": {
                "values": [0, 50, 100], "labelExpr": "datum.value == 50 ? '' : datum.value + '%'", "grid": true, "gridColor": "#ececec",
                "ticks": false, "domain": true, "domainColor": "#4a86d8", "domainWidth": 1.5,
                "labelFont": "Liberation Sans", "labelFontSize": 30, "labelPadding": 12,
                "title": "充電状態", "titleFont": "Noto Sans CJK JP", "titleFontSize": 34, "titleFontWeight": "bold",
                "titleAngle": 270, "titleX": -119, "titleY": 112, "titleAlign": "center", "titleBaseline": "middle"
              }
            }
          }
        },
        {
          "data": {"name": "soc"},
          "mark": {"type": "area", "color": "#9a42c0", "interpolate": "monotone"},
          "encoding": {
            "x": {"field": "t", "type": "quantitative"},
            "y": {"field": "soc_in", "type": "quantitative", "stack": null}
          }
        },
        {
          "data": {"name": "soc"},
          "mark": {"type": "line", "color": "#5a4fd8", "strokeWidth": 2.5, "interpolate": "monotone"},
          "encoding": {
            "x": {"field": "t", "type": "quantitative"},
            "y": {"field": "soc", "type": "quantitative"}
          }
        }
      ]
    }
  ]
}
